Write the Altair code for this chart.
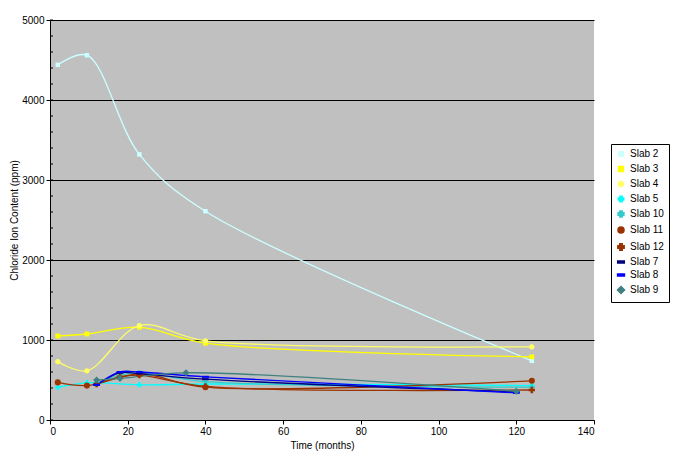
import altair as alt
import pandas as pd

series = ["Slab 2", "Slab 3", "Slab 4", "Slab 5", "Slab 10", "Slab 11",
          "Slab 12", "Slab 7", "Slab 8", "Slab 9"]

times = {
    "Slab 2": [2, 9.5, 23, 40, 124],
    "Slab 3": [2, 9.5, 23, 40, 124],
    "Slab 4": [2, 9.5, 23, 40, 124],
    "Slab 5": [2, 9.5, 23, 40, 124],
    "Slab 10": [12, 18, 23, 40, 124],
    "Slab 11": [2, 9.5, 23, 40, 124],
    "Slab 12": [12, 18, 23, 40, 124],
    "Slab 7": [12, 18, 23, 40, 120],
    "Slab 8": [12, 18, 23, 40, 120],
    "Slab 9": [12, 18, 35, 120],
}
values = {
    "Slab 2": [4440, 4560, 3320, 2610, 740],
    "Slab 3": [1050, 1075, 1160, 960, 790],
    "Slab 4": [730, 615, 1180, 990, 915],
    "Slab 5": [410, 465, 440, 450, 430],
    "Slab 10": [460, 560, 590, 480, 410],
    "Slab 11": [470, 430, 575, 410, 490],
    "Slab 12": [450, 540, 560, 420, 375],
    "Slab 7": [440, 590, 580, 510, 350],
    "Slab 8": [440, 600, 600, 540, 340],
    "Slab 9": [500, 520, 590, 360],
}

colors = ["#CCFFFF", "#FFFF00", "#FFFF66", "#00FFFF", "#33CCCC", "#993300",
          "#993300", "#000080", "#0000FF", "#408080"]
dash = "M-1,-0.3L1,-0.3L1,0.3L-1,0.3Z"
shapes = ["square", "square", "circle", "cross", "cross", "circle",
          "cross", dash, dash, "diamond"]
sizes = [20, 50, 35, 20, 20, 28, 16, 25, 25, 25]

rows = []
for s in series:
    for t, v in zip(times[s], values[s]):
        rows.append({"series": s, "t": t, "v": v})
df = pd.DataFrame(rows)

minor = pd.DataFrame({"m": list(range(0, 5001, 200))})

xenc = alt.X("t:Q", title="Time (months)",
             scale=alt.Scale(domain=[0, 140], nice=False),
             axis=alt.Axis(values=list(range(0, 141, 20)), grid=False, format="d",
                           domainColor="black", tickColor="black", tickSize=4,
                           labelFont="Liberation Sans", labelFontSize=10,
                           labelColor="black", titleFont="Liberation Sans",
                           titleFontSize=10, titleFontWeight="normal",
                           titleColor="black", titlePadding=4))
yenc = alt.Y("v:Q", title="Chloride Ion Content (ppm)",
             scale=alt.Scale(domain=[0, 5000], nice=False),
             axis=alt.Axis(values=list(range(0, 5001, 1000)), grid=True, format="d",
                           gridColor="black", gridOpacity=1, gridWidth=1,
                           domainColor="black", tickColor="black", tickSize=4,
                           labelFont="Liberation Sans", labelFontSize=10,
                           labelColor="black", labelPadding=2,
                           titleFont="Liberation Sans",
                           titleFontSize=10, titleFontWeight="normal",
                           titleColor="black", titlePadding=2))

cscale = alt.Scale(domain=series, range=colors)
legend = alt.Legend(title=None, orient="none", legendX=561, legendY=124,
                    strokeColor="black", fillColor="white", padding=5,
                    labelFont="Liberation Sans", labelFontSize=10,
                    labelColor="black", rowPadding=3, symbolSize=35,
                    symbolStrokeWidth=1.5)

lines = alt.Chart(df).mark_line(interpolate="catmull-rom", strokeWidth=1.3).encode(
    x=xenc, y=yenc,
    color=alt.Color("series:N", scale=cscale, legend=legend, sort=series),
    detail="series:N",
)
points = alt.Chart(df).mark_point(filled=True, opacity=1).encode(
    x="t:Q", y="v:Q",
    color=alt.Color("series:N", scale=cscale, legend=legend, sort=series),
    shape=alt.Shape("series:N", scale=alt.Scale(domain=series, range=shapes),
                    legend=legend, sort=series),
    size=alt.Size("series:N", scale=alt.Scale(domain=series, range=sizes),
                  legend=None),
)
minor_ticks = alt.Chart(minor).mark_rule(color="black", strokeWidth=1).encode(
    y=alt.Y("m:Q"), x=alt.value(0), x2=alt.value(3)
)

chart = alt.layer(minor_ticks, lines, points).properties(
    width=544, height=400,
    autosize=alt.AutoSizeParams(type="none"),
    padding={"left": 42, "top": 12, "right": 81, "bottom": 33},
    background="white",
).configure_view(fill="#C0C0C0", stroke=None)

chart.save("out.html", embed_options={"renderer": "svg", "actions": False})
